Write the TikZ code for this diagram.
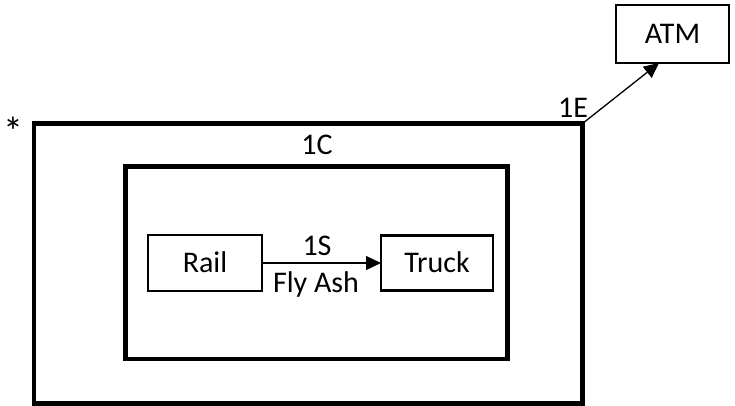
\documentclass[tikz,border=0pt]{standalone}
\usepackage{fontspec}
\setmainfont{Carlito}
\usetikzlibrary{arrows.meta}
\begin{document}
\begin{tikzpicture}[x=1pt,y=-1pt,
  every node/.style={font=\fontsize{30}{36}\selectfont, inner sep=0pt, outer sep=0pt},
  bigbox/.style={draw, line width=4.5pt, fill=none},
  smallbox/.style={draw, line width=2.2pt, text height=19pt, text depth=0pt},
  atmbox/.style={draw, line width=1.3pt, text height=19pt, text depth=0pt},
  lbl/.style={text height=19pt, text depth=0pt},
  flow/.style={line width=1.3pt, -{Triangle[length=15pt,width=14pt]}}
]
\useasboundingbox (0,0) rectangle (735,406);
\node[bigbox, minimum width=548.5pt, minimum height=280pt] (outer) at (308.25,263.5) {};
\node[bigbox, minimum width=382pt, minimum height=192.5pt] (inner) at (316.5,262.75) {};
\node[smallbox, minimum width=114pt, minimum height=56pt] (rail) at (205,263) {Rail};
\node[smallbox, minimum width=112pt, minimum height=55pt] (truck) at (437,263) {Truck};
\node[atmbox, minimum width=113pt, minimum height=58pt] (atm) at (672.5,34) {ATM};
\draw[flow] (rail.east) -- (truck.west);
\draw[flow] (outer.north east) -- ([xshift=-13.5pt]atm.south);
\node[lbl] (s1) at (317,245.5) {1S};
\node[lbl] (fly) at (316,282.5) {Fly Ash};
\node[lbl] (c1) at (317,145) {1C};
\node[lbl] (e1) at (573,108) {1E};
\node[font=\fontsize{40}{44}\selectfont] (star) at (13,131) {*};
\end{tikzpicture}
\end{document}
